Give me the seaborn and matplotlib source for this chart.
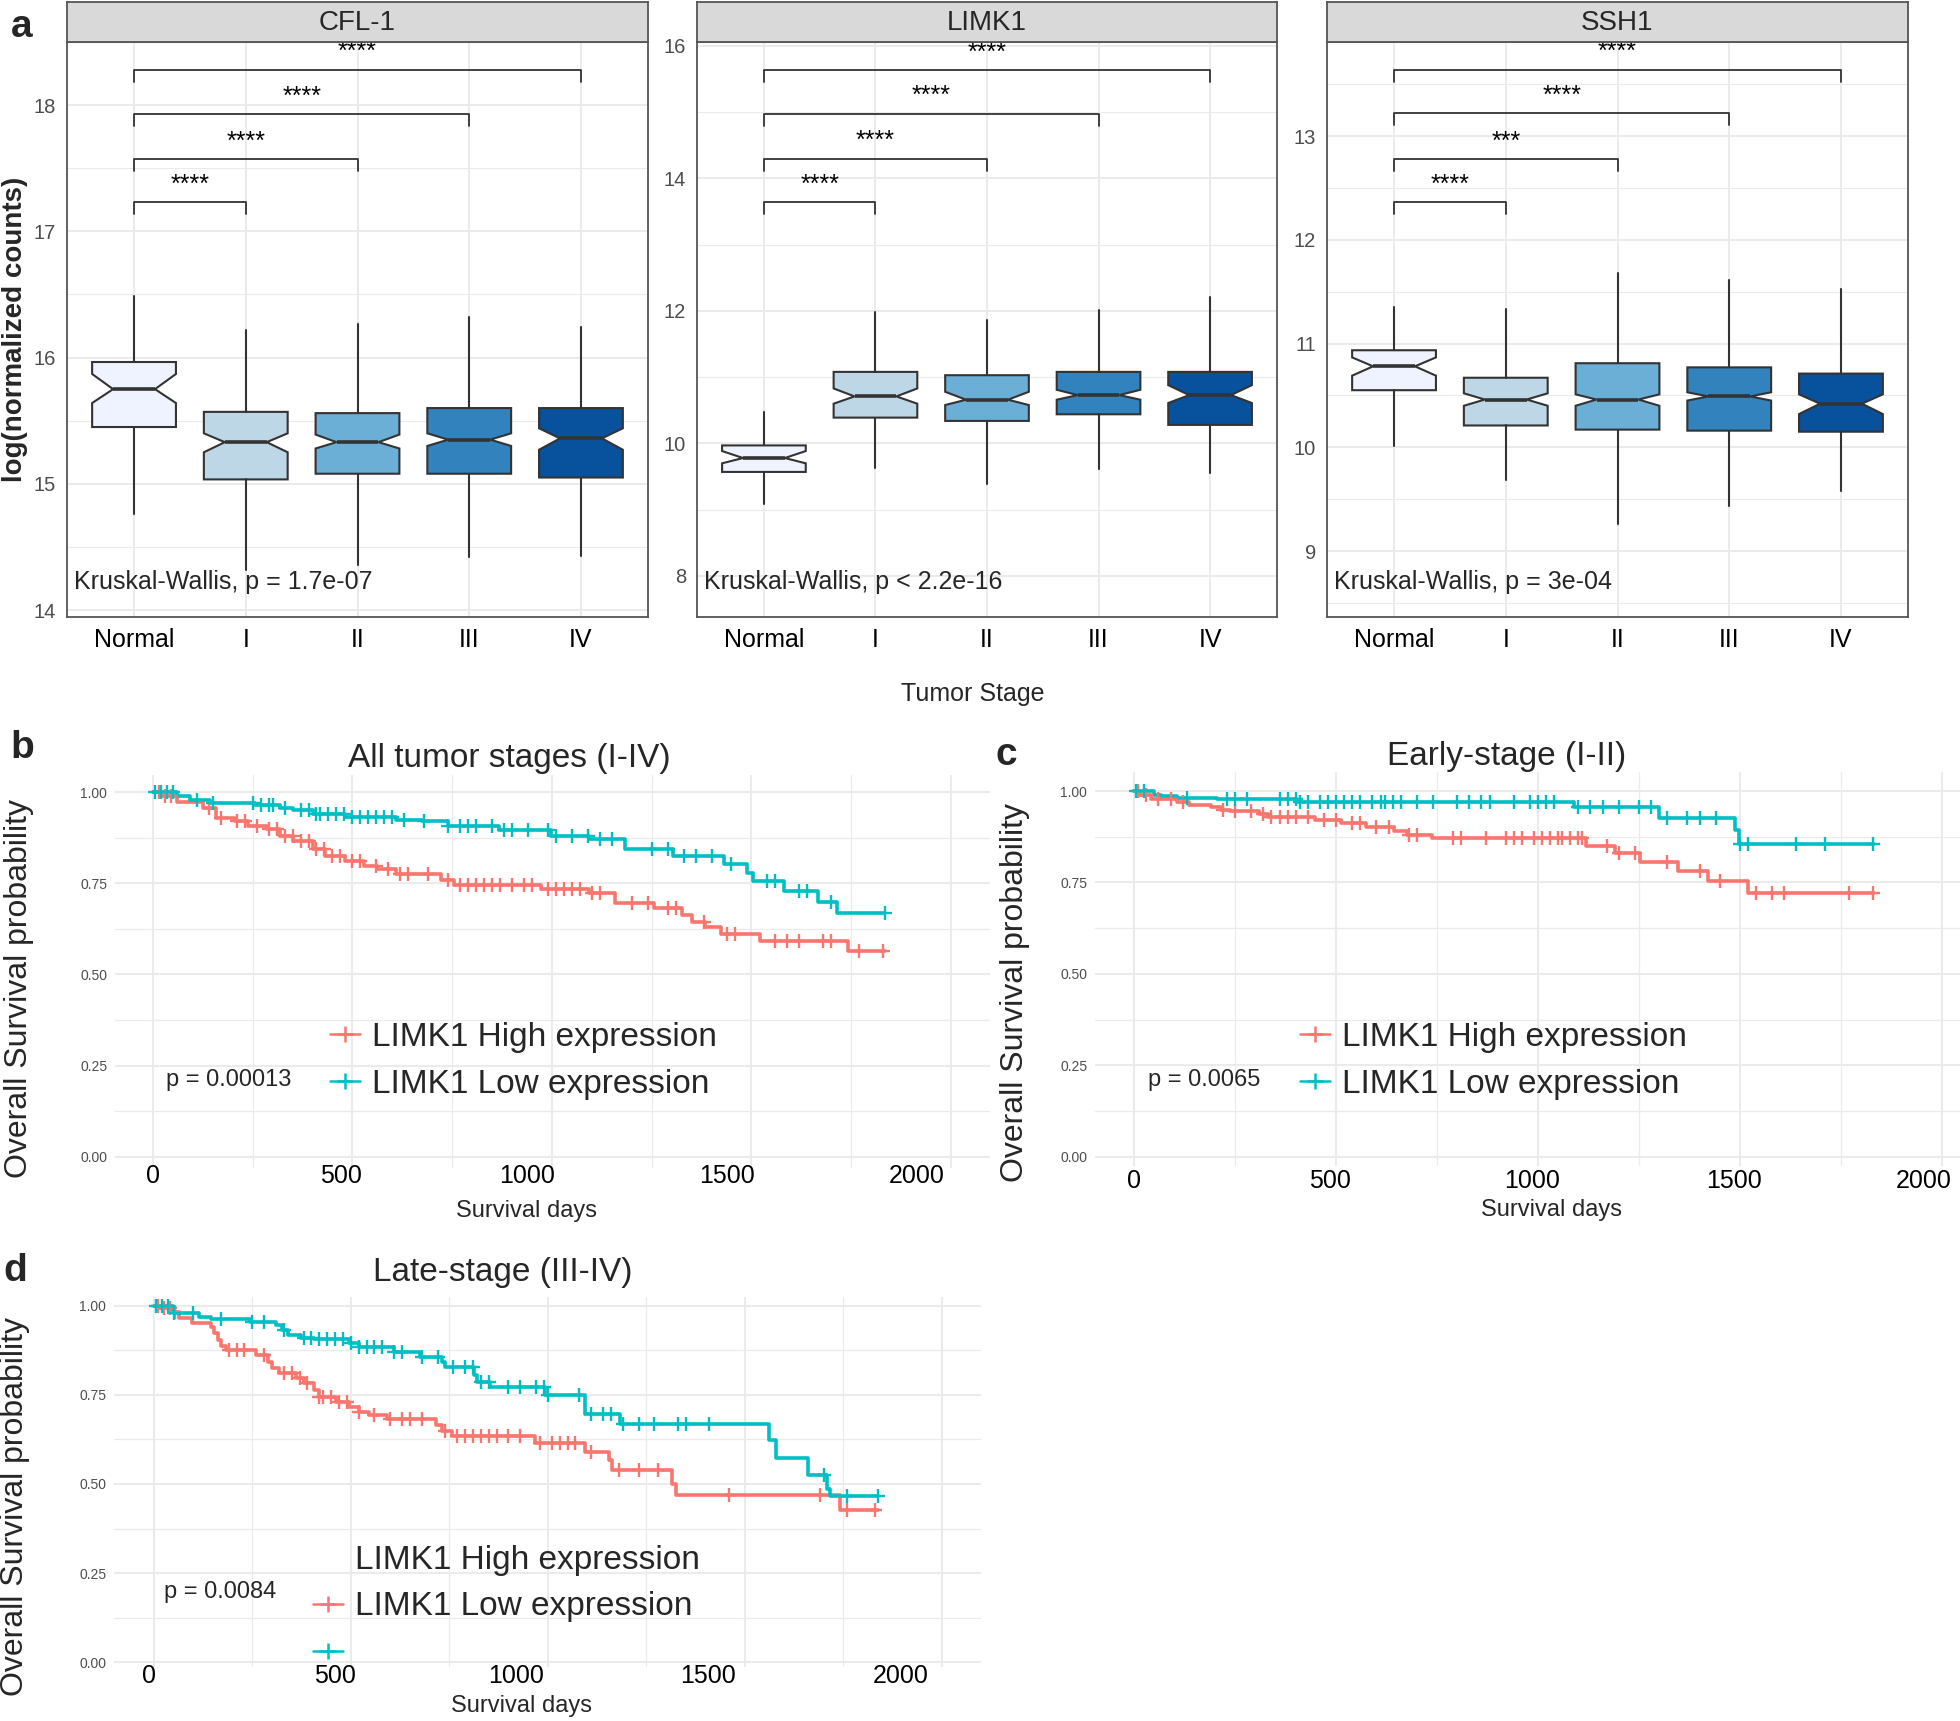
"""
Figure: LIMK1 / CFL-1 / SSH1 expression by tumor stage (a) and
Kaplan-Meier overall survival by LIMK1 expression (b-d).
Values are read off the published figure.
"""

import numpy as np
import pandas as pd
import matplotlib
matplotlib.use("Agg")  # Non-interactive backend
import matplotlib.pyplot as plt
import matplotlib.transforms as mtransforms
from matplotlib.lines import Line2D
from matplotlib.ticker import MultipleLocator
import seaborn as sns

# ---------------------------------------------------------------- panel a data
stages = ["Normal", "I", "II", "III", "IV"]
stage_colors = ["#EFF3FF", "#BDD7E7", "#6BAED6", "#3182BD", "#08519C"]
genes = ["CFL-1", "LIMK1", "SSH1"]

cfl1_whislo = [14.76, 14.32, 14.36, 14.42, 14.43]
cfl1_q1 = [15.45, 15.035, 15.08, 15.08, 15.05]
cfl1_cilo = [15.64, 15.25, 15.28, 15.30, 15.27]
cfl1_med = [15.75, 15.33, 15.33, 15.35, 15.36]
cfl1_cihi = [15.87, 15.40, 15.39, 15.40, 15.44]
cfl1_q3 = [15.965, 15.57, 15.56, 15.60, 15.60]
cfl1_whishi = [16.49, 16.22, 16.27, 16.32, 16.24]

limk1_whislo = [9.09, 9.63, 9.39, 9.61, 9.55]
limk1_q1 = [9.57, 10.39, 10.34, 10.44, 10.28]
limk1_cilo = [9.70, 10.60, 10.58, 10.66, 10.61]
limk1_med = [9.78, 10.71, 10.66, 10.73, 10.73]
limk1_cihi = [9.885, 10.83, 10.78, 10.81, 10.88]
limk1_q3 = [9.97, 11.08, 11.03, 11.08, 11.08]
limk1_whishi = [10.47, 11.98, 11.86, 12.01, 12.21]

ssh1_whislo = [10.01, 9.68, 9.26, 9.43, 9.58]
ssh1_q1 = [10.55, 10.21, 10.17, 10.16, 10.15]
ssh1_cilo = [10.69, 10.40, 10.40, 10.45, 10.32]
ssh1_med = [10.78, 10.46, 10.46, 10.49, 10.42]
ssh1_cihi = [10.866, 10.52, 10.51, 10.53, 10.51]
ssh1_q3 = [10.935, 10.67, 10.81, 10.77, 10.71]
ssh1_whishi = [11.355, 11.33, 11.68, 11.61, 11.53]

# pairwise comparisons against Normal
comparisons = [("Normal", "I"), ("Normal", "II"), ("Normal", "III"), ("Normal", "IV")]
cfl1_bracket_y = [17.23, 17.57, 17.93, 18.28]
limk1_bracket_y = [13.64, 14.30, 14.98, 15.64]
ssh1_bracket_y = [12.36, 12.78, 13.22, 13.64]
cfl1_sig = ["****", "****", "****", "****"]
limk1_sig = ["****", "****", "****", "****"]
ssh1_sig = ["****", "***", "****", "****"]
kruskal_labels = ["Kruskal-Wallis, p = 1.7e-07",
                  "Kruskal-Wallis, p < 2.2e-16",
                  "Kruskal-Wallis, p = 3e-04"]

# ------------------------------------------------------------ panels b-d data
group_labels = ["LIMK1 High expression", "LIMK1 Low expression"]
group_colors = ["#F8766D", "#00BFC4"]
day_ticks = [0, 500, 1000, 1500, 2000]

# b: all tumor stages
b_high_t = [0, 20, 61, 126, 158, 206, 239, 287, 319, 352, 400, 432, 481, 529,
            561, 610, 723, 755, 973, 1094, 1158, 1255, 1327, 1352, 1384, 1424,
            1521, 1742, 1835]
b_high_s = [1.0, 0.99, 0.973, 0.957, 0.93, 0.922, 0.908, 0.899, 0.88, 0.867,
            0.844, 0.825, 0.811, 0.797, 0.788, 0.776, 0.76, 0.746, 0.735, 0.723,
            0.696, 0.682, 0.663, 0.645, 0.629, 0.612, 0.591, 0.565, 0.565]
b_high_cens = [15, 30, 45, 140, 170, 210, 230, 260, 290, 310, 330, 350, 370,
               390, 410, 430, 450, 470, 500, 520, 560, 590, 620, 640, 690, 740,
               770, 790, 810, 830, 850, 870, 900, 930, 950, 990, 1010, 1030,
               1050, 1070, 1100, 1120, 1200, 1240, 1290, 1310, 1380, 1440, 1460,
               1560, 1590, 1620, 1680, 1700, 1770, 1830]
b_low_t = [0, 60, 94, 142, 255, 319, 352, 400, 481, 610, 674, 739, 868, 997,
           1094, 1182, 1303, 1432, 1489, 1505, 1581, 1666, 1715, 1835]
b_low_s = [1.0, 0.99, 0.978, 0.970, 0.964, 0.957, 0.95, 0.941, 0.932, 0.924,
           0.92, 0.906, 0.895, 0.881, 0.871, 0.844, 0.825, 0.802, 0.779, 0.756,
           0.728, 0.698, 0.668, 0.668]
b_low_cens = [5, 20, 35, 50, 110, 150, 250, 270, 290, 300, 330, 370, 390, 410,
              420, 440, 460, 480, 500, 520, 540, 560, 580, 600, 630, 680, 740,
              770, 790, 810, 850, 880, 900, 940, 990, 1010, 1050, 1090, 1120,
              1150, 1250, 1290, 1330, 1360, 1400, 1450, 1540, 1560, 1620, 1640,
              1700, 1835]

# c: early stage (I-II)
c_high_t = [0, 11, 42, 105, 136, 191, 214, 238, 308, 331, 448, 511, 573, 644,
            675, 738, 1120, 1191, 1253, 1347, 1422, 1519, 1831]
c_high_s = [1.0, 0.989, 0.977, 0.971, 0.963, 0.956, 0.949, 0.945, 0.936, 0.928,
            0.922, 0.913, 0.903, 0.89, 0.881, 0.871, 0.851, 0.83, 0.807, 0.782,
            0.754, 0.72, 0.72]
c_high_cens = [10, 30, 60, 90, 120, 220, 250, 290, 320, 340, 360, 380, 400, 430,
               470, 500, 540, 560, 600, 630, 680, 700, 790, 810, 870, 920, 940,
               960, 990, 1010, 1030, 1050, 1060, 1080, 1100, 1110, 1170, 1200,
               1240, 1320, 1400, 1450, 1540, 1580, 1610, 1770, 1830]
c_low_t = [0, 50, 66, 105, 206, 402, 1089, 1300, 1487, 1498, 1831]
c_low_s = [1.0, 0.99, 0.986, 0.982, 0.977, 0.97, 0.956, 0.926, 0.894, 0.855, 0.855]
c_low_cens = [5, 25, 130, 230, 250, 280, 360, 380, 400, 410, 430, 460, 480, 500,
              520, 540, 560, 590, 610, 620, 640, 660, 700, 740, 800, 830, 860,
              880, 940, 980, 1000, 1020, 1040, 1100, 1130, 1160, 1200, 1250,
              1280, 1320, 1370, 1400, 1440, 1500, 1520, 1640, 1710, 1830]

# d: late stage (III-IV)
d_high_t = [0, 16, 49, 65, 98, 146, 154, 163, 171, 182, 260, 289, 301, 317, 361,
            382, 407, 418, 463, 496, 520, 545, 593, 715, 732, 756, 967, 1093,
            1154, 1163, 1314, 1325, 1740, 1837]
d_high_s = [1.0, 0.993, 0.983, 0.964, 0.952, 0.941, 0.922, 0.904, 0.887, 0.876,
            0.862, 0.843, 0.824, 0.81, 0.796, 0.782, 0.763, 0.745, 0.731, 0.717,
            0.703, 0.693, 0.682, 0.665, 0.649, 0.634, 0.616, 0.59, 0.567, 0.539,
            0.501, 0.469, 0.427, 0.427]
d_high_cens = [10, 25, 40, 55, 190, 210, 230, 280, 330, 350, 370, 390, 420, 430,
               450, 470, 490, 520, 560, 600, 630, 650, 680, 740, 770, 790, 810,
               830, 850, 870, 900, 930, 980, 1010, 1030, 1050, 1070, 1110, 1180,
               1230, 1280, 1460, 1690, 1760, 1830]
d_low_t = [0, 49, 114, 146, 244, 309, 325, 341, 374, 407, 496, 520, 610, 675,
           732, 740, 813, 821, 854, 992, 1093, 1184, 1561, 1580, 1659, 1707,
           1715, 1837]
d_low_s = [1.0, 0.978, 0.967, 0.963, 0.955, 0.946, 0.932, 0.918, 0.91, 0.906,
           0.894, 0.885, 0.871, 0.857, 0.843, 0.827, 0.805, 0.787, 0.771, 0.749,
           0.696, 0.668, 0.623, 0.572, 0.525, 0.487, 0.466, 0.466]
d_low_cens = [5, 20, 35, 50, 100, 170, 250, 280, 330, 380, 400, 420, 440, 460,
              480, 500, 520, 540, 560, 580, 610, 630, 680, 720, 760, 790, 810,
              830, 850, 900, 930, 970, 990, 1000, 1080, 1110, 1140, 1160, 1190,
              1230, 1270, 1330, 1350, 1410, 1700, 1760, 1837]

km_titles = ["All tumor stages (I-IV)", "Early-stage (I-II)", "Late-stage (III-IV)"]
km_pvalues = ["p = 0.00013", "p = 0.0065", "p = 0.0084"]

# ------------------------------------------------------------------ layout
W, H = 1960, 1721
GRID = "#EBEBEB"
DARK = "#333333"


def frac(left, top, right, bottom):
    """Pixel box (from top-left) -> figure fraction rect."""
    return [left / W, 1 - bottom / H, (right - left) / W, (bottom - top) / H]


def fx(x):
    return x / W


def fy(y):
    return 1 - y / H


def draw_box_panel(ax, strip, gene, stats, ylim, ystep, bracket_y, sig, kw_text):
    pos = np.arange(len(stages))
    bxp_stats = [
        dict(med=stats["med"][i], q1=stats["q1"][i], q3=stats["q3"][i],
             whislo=stats["whislo"][i], whishi=stats["whishi"][i],
             cilo=stats["cilo"][i], cihi=stats["cihi"][i], fliers=[])
        for i in range(len(stages))
    ]
    art = ax.bxp(bxp_stats, positions=pos, widths=0.75, shownotches=True,
                 showcaps=False, showfliers=False, patch_artist=True,
                 manage_ticks=False,
                 boxprops=dict(edgecolor=DARK, linewidth=1.5),
                 medianprops=dict(color=DARK, linewidth=2.6),
                 whiskerprops=dict(color=DARK, linewidth=1.5))
    for patch, col in zip(art["boxes"], stage_colors):
        patch.set_facecolor(col)
        patch.set_zorder(3)
    for ln in art["medians"] + art["whiskers"]:
        ln.set_zorder(4)

    ax.set_xlim(-0.6, len(stages) - 0.4)
    ax.set_ylim(*ylim)
    ax.set_xticks(pos)
    ax.set_xticklabels(stages)
    ax.yaxis.set_major_locator(MultipleLocator(ystep))
    ax.yaxis.set_minor_locator(MultipleLocator(ystep / 2))
    ax.set_axisbelow(True)
    ax.grid(axis="x", which="major", color=GRID, lw=1.4)
    ax.grid(axis="y", which="major", color=GRID, lw=1.4)
    ax.grid(axis="y", which="minor", color=GRID, lw=0.8)
    ax.tick_params(axis="x", which="major", length=5, width=1.3, color=DARK,
                   pad=3, labelsize=18, labelcolor="black")
    ax.tick_params(axis="y", which="major", length=5, width=1.3, color=DARK,
                   pad=3, labelsize=14.5, labelcolor="#4D4D4D")
    ax.tick_params(axis="y", which="minor", length=0)
    for sp in ax.spines.values():
        sp.set_color("#555555")
        sp.set_linewidth(1.3)

    # significance brackets
    tip = 0.021 * (ylim[1] - ylim[0])
    for (g0, g1), y, lab in zip(comparisons, bracket_y, sig):
        x0, x1 = stages.index(g0), stages.index(g1)
        ax.plot([x0, x0, x1, x1], [y - tip, y, y, y - tip], color=DARK, lw=1.3,
                zorder=5)
        ax.annotate(lab, xy=((x0 + x1) / 2, y), xytext=(0, 7.5),
                    textcoords="offset points", ha="center", va="baseline",
                    fontsize=18, color="black", annotation_clip=False)

    ax.text(0.012, 0.061, kw_text, transform=ax.transAxes, fontsize=18,
            ha="left", va="center", zorder=6)

    strip.set_facecolor("#D9D9D9")
    strip.set_xticks([])
    strip.set_yticks([])
    for sp in strip.spines.values():
        sp.set_color("#555555")
        sp.set_linewidth(1.3)
    strip.text(0.5, 0.47, gene, transform=strip.transAxes, ha="center",
               va="center", fontsize=20)


def draw_km_panel(fig, ax, curves, xlim, ylim, label_dy, label_dx):
    for (t, s, cens), col in zip(curves, group_colors):
        df = pd.DataFrame({"time": t, "surv": s})
        sns.lineplot(data=df, x="time", y="surv", drawstyle="steps-post",
                     color=col, lw=2.6, estimator=None, sort=False, ax=ax)
        idx = np.searchsorted(t, cens, side="right") - 1
        sns.scatterplot(x=np.asarray(cens), y=np.asarray(s)[idx], marker="+",
                        s=110, color=col, linewidth=1.7, ax=ax, zorder=4)
    ax.set_xlabel("")
    ax.set_ylabel("")
    ax.set_xlim(*xlim)
    ax.set_ylim(*ylim)
    ax.set_xticks(day_ticks)
    ax.set_xticklabels([])
    ax.xaxis.set_minor_locator(MultipleLocator(250))
    ax.set_yticks([0, 0.25, 0.5, 0.75, 1.0])
    ax.set_yticklabels(["0.00", "0.25", "0.50", "0.75", "1.00"])
    ax.yaxis.set_minor_locator(MultipleLocator(0.125))
    ax.set_axisbelow(True)
    ax.grid(which="major", color=GRID, lw=1.5)
    ax.grid(which="minor", color=GRID, lw=0.9)
    ax.tick_params(axis="x", which="both", length=0)
    ax.tick_params(axis="y", which="major", length=4, width=1.5, color=DARK,
                   pad=1.5, labelsize=10, labelcolor="#4D4D4D")
    ax.tick_params(axis="y", which="minor", length=0)
    for sp in ax.spines.values():
        sp.set_visible(False)

    # day labels sit slightly squeezed toward the left in the source figure
    base = mtransforms.blended_transform_factory(ax.transData, ax.transAxes)
    for tick, dx in zip(day_ticks, label_dx):
        shift = mtransforms.ScaledTranslation(dx / 100, -label_dy / 100,
                                              fig.dpi_scale_trans)
        ax.text(tick, 0, f"{tick}", transform=base + shift, ha="center",
                va="center", fontsize=18, color="black", clip_on=False)


def km_handle(col):
    return Line2D([0], [0], color=col, lw=1.8, marker="+", markersize=12,
                  markeredgewidth=1.8)


def main():
    sns.set_theme(style="white")
    plt.rcParams["font.family"] = ["Liberation Sans", "DejaVu Sans"]

    fig = plt.figure(figsize=(W / 100, H / 100), dpi=100)
    fig.patch.set_facecolor("white")

    # ---------------------------------------------------------------- panel a
    box_stats = {
        "CFL-1": dict(whislo=cfl1_whislo, q1=cfl1_q1, cilo=cfl1_cilo, med=cfl1_med,
                      cihi=cfl1_cihi, q3=cfl1_q3, whishi=cfl1_whishi),
        "LIMK1": dict(whislo=limk1_whislo, q1=limk1_q1, cilo=limk1_cilo,
                      med=limk1_med, cihi=limk1_cihi, q3=limk1_q3,
                      whishi=limk1_whishi),
        "SSH1": dict(whislo=ssh1_whislo, q1=ssh1_q1, cilo=ssh1_cilo, med=ssh1_med,
                     cihi=ssh1_cihi, q3=ssh1_q3, whishi=ssh1_whishi),
    }
    brackets = {"CFL-1": (cfl1_bracket_y, cfl1_sig),
                "LIMK1": (limk1_bracket_y, limk1_sig),
                "SSH1": (ssh1_bracket_y, ssh1_sig)}
    ylims = {"CFL-1": (13.945, 18.50), "LIMK1": (7.38, 16.06),
             "SSH1": (8.364, 13.906)}
    ysteps = {"CFL-1": 1, "LIMK1": 2, "SSH1": 1}
    x_edges = [(67, 648), (697, 1277), (1327, 1908)]

    box_axes = []
    for gene, (x0, x1), kw in zip(genes, x_edges, kruskal_labels):
        ax = fig.add_axes(frac(x0, 42, x1, 617))
        box_axes.append((gene, ax, kw, x0, x1))
    for gene, ax, kw, x0, x1 in box_axes:
        strip = fig.add_axes(frac(x0, 2, x1, 42))
        by, sig = brackets[gene]
        draw_box_panel(ax, strip, gene, box_stats[gene], ylims[gene],
                       ysteps[gene], by, sig, kw)

    fig.text(fx(15), fy(329), "log(normalized counts)", rotation=90,
             fontsize=20, fontweight="bold", ha="center", va="center")
    fig.text(fx(973), fy(694), "Tumor Stage", fontsize=18, ha="center",
             va="center")

    # ------------------------------------------------------------ panels b-d
    km_specs = [
        dict(rect=(115, 775, 990, 1168), xlim=(-95, 2098), ylim=(-0.031, 1.047),
             label_dy=8, label_dx=[0, -11, -25, -24, -34],
             curves=[(b_high_t, b_high_s, b_high_cens), (b_low_t, b_low_s, b_low_cens)],
             title=(509, 759), xlab=(526, 1211), ylab=(19, 989), p=(229, 1080),
             leg=(330, 1061), labels=group_labels),
        dict(rect=(1095, 772, 1960, 1166), xlim=(-97, 2045), ylim=(-0.025, 1.052),
             label_dy=15, label_dx=[0, -6, -6, -6, -18],
             curves=[(c_high_t, c_high_s, c_high_cens), (c_low_t, c_low_s, c_low_cens)],
             title=(1507, 756), xlab=(1551, 1210), ylab=(1015, 992), p=(1204, 1080),
             leg=(1300, 1061), labels=group_labels),
        dict(rect=(114, 1297, 981, 1667), xlim=(-101, 2099), ylim=(-0.013, 1.024),
             label_dy=9, label_dx=[-5, -16, -32, -37, -41],
             curves=[(d_high_t, d_high_s, d_high_cens), (d_low_t, d_low_s, d_low_cens)],
             title=(503, 1272), xlab=(521, 1706), ylab=(15, 1507), p=(220, 1592),
             leg=(313, 1607), labels=None),
    ]

    for spec, title, pval in zip(km_specs, km_titles, km_pvalues):
        ax = fig.add_axes(frac(*spec["rect"]))
        draw_km_panel(fig, ax, spec["curves"], spec["xlim"], spec["ylim"],
                      spec["label_dy"], spec["label_dx"])

        fig.text(fx(spec["title"][0]), fy(spec["title"][1]), title, fontsize=24,
                 ha="center", va="center")
        fig.text(fx(spec["xlab"][0]), fy(spec["xlab"][1]), "Survival days",
                 fontsize=17, ha="center", va="center")
        fig.text(fx(spec["ylab"][0]), fy(spec["ylab"][1]),
                 "Overall Survival probability", rotation=90, fontsize=23,
                 ha="center", va="center")
        fig.text(fx(spec["p"][0]), fy(spec["p"][1]), pval, fontsize=17,
                 ha="center", va="center")

        if spec["labels"] is not None:
            handles = [km_handle(c) for c in group_colors]
            labels = spec["labels"]
        else:
            # the late-stage legend in the source is shifted by one row
            handles = [Line2D([], [], linestyle="none")] + \
                      [km_handle(c) for c in group_colors]
            labels = group_labels + [""]
        ax.legend(handles, labels, loc="center left",
                  bbox_to_anchor=(fx(spec["leg"][0]), fy(spec["leg"][1])),
                  bbox_transform=fig.transFigure, frameon=False, fontsize=24,
                  handlelength=0.9, handletextpad=0.35, labelspacing=0.48,
                  borderpad=0, borderaxespad=0)

    # panel letters
    for letter, (x, y) in zip("abcd", [(22, 37), (22, 758), (1006, 765), (15, 1281)]):
        fig.text(fx(x), fy(y), letter, fontsize=28, fontweight="bold",
                 ha="center", va="baseline")

    fig.savefig("out.png", dpi=100, facecolor="white")
    plt.close(fig)


if __name__ == "__main__":
    main()
